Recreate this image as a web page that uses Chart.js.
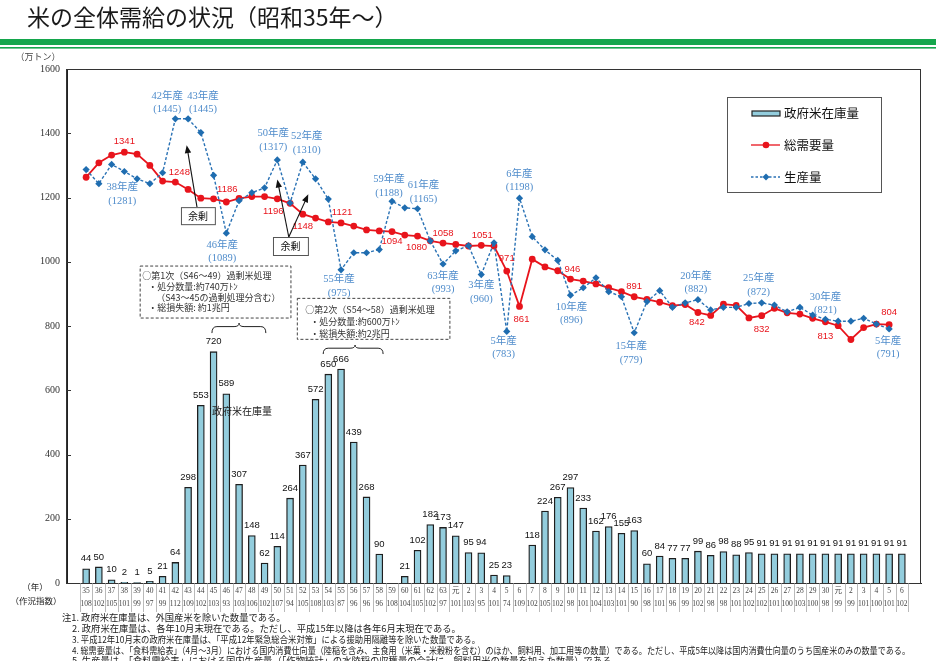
<!DOCTYPE html>
<html><head><meta charset="utf-8">
<script src="https://cdn.jsdelivr.net/npm/chart.js@4.4.0/dist/chart.umd.min.js"></script>
<style>html,body{margin:0;padding:0;background:#fff;}#wrap{width:936px;height:661px;}</style>
</head><body><div id="wrap"><canvas id="c" width="936" height="661"></canvas></div>
<script>
// ---- data ----
const years = ['35','36','37','38','39','40','41','42','43','44','45','46','47','48','49','50','51','52','53','54','55','56','57','58','59','60','61','62','63','元','2','3','4','5','6','7','8','9','10','11','12','13','14','15','16','17','18','19','20','21','22','23','24','25','26','27','28','29','30','元','2','3','4','5','6'];
const cropIndex = [108,102,105,101,99,97,99,112,109,102,103,93,103,106,102,107,94,105,108,103,87,96,96,96,108,104,105,102,97,101,103,95,101,74,109,102,105,102,98,101,104,103,101,90,98,101,96,99,102,98,98,101,102,102,101,100,103,100,98,99,99,101,100,101,102];
const stock = [44,50,10,2,1,5,21,64,298,553,720,589,307,148,62,114,264,367,572,650,666,439,268,90,null,21,102,182,173,147,95,94,25,23,null,118,224,267,297,233,162,176,155,163,60,84,77,77,99,86,98,88,95,91,91,91,91,91,91,91,91,91,91,91,91];
const demand = [1263,1308,1332,1341,1335,1300,1251,1248,1225,1198,1196,1186,1197,1203,1203,1196,1182,1148,1136,1124,1121,1111,1099,1096,1094,1083,1080,1065,1058,1054,1049,1051,1049,971,861,1008,984,972,946,940,931,919,907,891,883,874,863,867,842,833,868,864,825,832,855,841,837,824,813,801,758,795,806,804,null];
const production = [1287,1243,1303,1281,1258,1243,1277,1445,1445,1402,1269,1089,1190,1215,1230,1317,1183,1310,1258,1195,975,1028,1028,1038,1188,1168,1165,1065,993,1034,1050,960,1059,783,1198,1078,1037,1004,896,919,950,907,891,779,876,910,858,872,882,850,858,858,870,872,865,844,858,834,821,815,815,824,806,791,null];
const yTickValues = [0,200,400,600,800,1000,1200,1400,1600];
const seriesNames = ['政府米在庫量','総需要量','生産量'];

// labelled points: [index, dx, dy]
const demandLabelPts = [[3,0,-10.5],[7,4,-10],[11,1,-13],[15,-4,13],[17,0,12],[20,1,-10.5],[24,0,10],[26,-1,11],[28,0,-10],[31,1,-9.5],[33,0,-12.5],[34,2,13],[38,2,-10],[43,0,-10],[48,-1,10],[53,0,14],[58,0,15],[63,0,-12]];
const prodLabelPts = [[3,-2,16],[7,-8,-23],[8,15,-23],[11,-4,12],[15,-4,-26.5],[17,4,-25.5],[20,-2,9.5],[24,-3,-22],[26,6,-23],[28,0,12],[31,0,11],[33,-3,9.5],[34,0,-24],[38,1,12],[43,-3,14],[48,-2,-23.5],[53,-3,-24.5],[58,0,-22.5],[63,-1,12]];

const notes = [
 '注1. 政府米在庫量は、外国産米を除いた数量である。',
 '2. 政府米在庫量は、各年10月末現在である。ただし、平成15年以降は各年6月末現在である。',
 '3. 平成12年10月末の政府米在庫量は、「平成12年緊急総合米対策」による援助用隔離等を除いた数量である。',
 '4. 総需要量は、「食料需給表」（4月～3月）における国内消費仕向量（陸稲を含み、主食用（米菓・米穀粉を含む）のほか、飼料用、加工用等の数量）である。ただし、平成5年以降は国内消費仕向量のうち国産米のみの数量である。',
 '5. 生産量は、「食料需給表」における国内生産量（「作物統計」の水陸稲の収穫量の合計に、飼料用米の数量を加えた数量）である。'
];
const box1Lines = ['○第1次（S46～49）過剰米処理','・処分数量:約740万ﾄﾝ','（S43～45の過剰処理分含む）','・総損失額: 約1兆円'];
const box2Lines = ['○第2次（S54～58）過剰米処理','・処分数量:約600万ﾄﾝ','・総損失額:約2兆円'];

const toXY = arr => arr.map((v,i)=>v==null?null:{x:i,y:v}).filter(p=>p);

const RED='#e8141c', BLUE='#2a72b5', BLUE_T='#4f8ccb', BAR='#93cddd';
const SANS='"Noto Sans CJK JP","Noto Sans",sans-serif';
const SERIF='"Liberation Serif","Noto Sans CJK JP",serif';

function arrow(c,x1,y1,x2,y2){
  const ang=Math.atan2(y2-y1,x2-x1), L=8, W=3.2;
  c.beginPath(); c.moveTo(x1,y1); c.lineTo(x2-Math.cos(ang)*L*0.8,y2-Math.sin(ang)*L*0.8); c.stroke();
  c.beginPath(); c.moveTo(x2,y2);
  c.lineTo(x2-Math.cos(ang)*L+Math.sin(ang)*W, y2-Math.sin(ang)*L-Math.cos(ang)*W);
  c.lineTo(x2-Math.cos(ang)*L-Math.sin(ang)*W, y2-Math.sin(ang)*L+Math.cos(ang)*W);
  c.closePath(); c.fill();
}
function brace(c,x1,x2,cx,yt,yb){
  const ym=yt+(yb-yt)*0.35;
  c.beginPath();
  c.moveTo(x1,yb); c.quadraticCurveTo(x1,ym,x1+5,ym);
  c.lineTo(cx-5,ym); c.quadraticCurveTo(cx,ym,cx,yt);
  c.quadraticCurveTo(cx,ym,cx+5,ym); c.lineTo(x2-5,ym);
  c.quadraticCurveTo(x2,ym,x2,yb); c.stroke();
}

const decor = {
  id:'decor',
  beforeDraw(chart){
    const c=chart.ctx; c.save();
    c.fillStyle='#fff'; c.fillRect(0,0,chart.width,chart.height);
    c.fillStyle='#1a1a1a'; c.font='400 23px '+SANS; c.textBaseline='middle'; c.textAlign='left';
    c.fillText('米の全体需給の状況（昭和35年〜）',27,17.5);
    c.fillStyle='#14a64c'; c.fillRect(0,39,chart.width,6); c.fillRect(0,47,chart.width,1.6);
    c.restore();
  },
  afterDraw(chart){
    const c=chart.ctx, xs=chart.scales.x, ys=chart.scales.y, a=chart.chartArea;
    const X=v=>xs.getPixelForValue(v), Y=v=>ys.getPixelForValue(v);
    c.save();
    // frame
    c.strokeStyle='#333'; c.lineWidth=1;
    c.strokeRect(Math.round(a.left)-0.5,Math.round(a.top)+0.5,Math.round(a.right-a.left),Math.round(a.bottom-a.top));
    // inner y ticks
    yTickValues.forEach(v=>{const y=Math.round(Y(v))+0.5;c.beginPath();c.moveTo(a.left,y);c.lineTo(a.left+4,y);c.stroke();});
    // table separators
    c.strokeStyle='#9c9c9c'; c.lineWidth=0.7;
    for(let k=-0.5;k<=years.length-0.5;k+=1){const x=Math.round(X(k))+0.5;c.beginPath();c.moveTo(x,a.bottom);c.lineTo(x,a.bottom+29);c.stroke();}
    // axis captions
    c.fillStyle='#444'; c.font='9px '+SANS; c.textAlign='center'; c.textBaseline='middle';
    c.fillText('（万トン）',38,57);
    c.fillStyle='#222'; c.font='8.5px '+SANS;
    c.fillText('（年）',35,587); c.fillText('（作況指数）',36,601);
    // bar labels
    c.fillStyle='#111'; c.font='9.5px "Liberation Sans",sans-serif';
    stock.forEach((v,i)=>{ if(v!=null) c.fillText(String(v),X(i),Y(v)-10); });
    // demand labels
    c.fillStyle=RED; c.font='9.5px "Liberation Sans",sans-serif';
    demandLabelPts.forEach(([i,dx,dy])=>c.fillText(String(demand[i]),X(i)+dx,Y(demand[i])+dy));
    // production labels
    c.fillStyle=BLUE_T; c.font='10.5px '+SERIF;
    prodLabelPts.forEach(([i,dx,dy])=>{
      const x=X(i)+dx, y=Y(production[i])+dy;
      c.fillText(years[i]+'年産',x,y); c.fillText('('+production[i]+')',x,y+13.5);
    });
    // in-chart caption
    c.fillStyle='#222'; c.font='10px '+SANS; c.fillText(seriesNames[0],X(12.23),Y(535));
    // dashed boxes
    c.setLineDash([3,2]); c.strokeStyle='#444'; c.lineWidth=1;
    let bx=X(4.24), by=Y(986.6), bw=X(16.07)-bx, bh=Y(824.8)-by;
    c.fillStyle='#fff'; c.fillRect(bx,by,bw,bh); c.strokeRect(bx,by,bw,bh);
    c.fillStyle='#333'; c.font='9px '+SANS; c.textAlign='left';
    [[2,10],[8,21],[16,31.5],[8,42]].forEach(([ox,oy],k)=>c.fillText(box1Lines[k],bx+ox,by+oy));
    bx=X(16.57); by=Y(886); bw=X(28.54)-bx; bh=Y(758.5)-by;
    c.fillStyle='#fff'; c.fillRect(bx,by,bw,bh); c.strokeRect(bx,by,bw,bh);
    c.fillStyle='#333';
    [[8,11],[13,23],[13,35]].forEach(([ox,oy],k)=>c.fillText(box2Lines[k],bx+ox,by+oy));
    c.setLineDash([]);
    // braces
    c.strokeStyle='#222'; c.lineWidth=1;
    brace(c,X(9.87),X(14.1),X(12.0),Y(809),Y(778));
    brace(c,X(18.6),X(23.3),X(21.1),Y(740.7),Y(712.7));
    // surplus boxes + arrows
    c.fillStyle='#111'; c.strokeStyle='#111'; c.lineWidth=1.1;
    arrow(c,X(8.7),Y(1170),X(7.89),Y(1363));
    arrow(c,X(15.9),Y(1077),X(15.0),Y(1256));
    arrow(c,X(15.9),Y(1077),X(17.43),Y(1210));
    c.strokeStyle='#555'; c.lineWidth=1; c.textAlign='center'; c.font='10px '+SANS;
    [[7.44,10.1,1170,1117],[14.66,17.4,1077,1021]].forEach(([i1,i2,v1,v2])=>{
      const x=X(i1),y=Y(v1),w=X(i2)-x,h=Y(v2)-y;
      c.fillStyle='#fff'; c.fillRect(x,y,w,h); c.strokeRect(x+0.5,y+0.5,w,h);
      c.fillStyle='#111'; c.fillText('余剰',x+w/2,y+h/2+0.5);
    });
    // legend
    c.strokeStyle='#555'; c.lineWidth=1; c.strokeRect(727.5,97.5,154,95);
    c.fillStyle=BAR; c.fillRect(752,111,28,5); c.strokeStyle='#222'; c.lineWidth=1.2; c.strokeRect(752,111,28,5);
    c.strokeStyle=RED; c.lineWidth=1.3; c.beginPath(); c.moveTo(751,145); c.lineTo(780,145); c.stroke();
    c.fillStyle=RED; c.beginPath(); c.arc(766,145,3.3,0,Math.PI*2); c.fill();
    c.strokeStyle=BLUE; c.setLineDash([2.5,2]); c.beginPath(); c.moveTo(751,177); c.lineTo(780,177); c.stroke(); c.setLineDash([]);
    c.fillStyle='#1f6db0'; c.beginPath(); c.moveTo(766,173.5); c.lineTo(769.5,177); c.lineTo(766,180.5); c.lineTo(762.5,177); c.closePath(); c.fill();
    c.fillStyle='#111'; c.font='12.5px '+SANS; c.textAlign='left';
    c.fillText(seriesNames[0],784,113.5); c.fillText(seriesNames[1],784,145.5); c.fillText(seriesNames[2],784,177);
    // footnotes
    c.fillStyle='#222'; c.font='9.3px '+SANS;
    const nx=[62,72,72,72,72], ny=[617,628,639,650,660.5], nw=[240,398,408,838,648];
    notes.forEach((t,k)=>c.fillText(t,nx[k],ny[k],nw[k]));
    c.restore();
  }
};

new Chart(document.getElementById('c'),{
  type:'bar',
  data:{datasets:[
    {type:'line',label:seriesNames[2],data:toXY(production),borderColor:BLUE,borderWidth:1.4,borderDash:[3,2],
     pointStyle:'rectRot',pointRadius:3.6,pointBackgroundColor:'#1f6db0',pointBorderColor:'#1f6db0',pointBorderWidth:0,tension:0,order:1},
    {type:'line',label:seriesNames[1],data:toXY(demand),borderColor:RED,borderWidth:1.8,
     pointStyle:'circle',pointRadius:3.4,pointBackgroundColor:RED,pointBorderColor:RED,pointBorderWidth:0,tension:0,order:2},
    {type:'bar',label:seriesNames[0],data:toXY(stock),backgroundColor:BAR,borderColor:'#1e1e1e',borderWidth:1.3,barThickness:7,order:3}
  ]},
  options:{
    responsive:false,animation:false,
    layout:{padding:{left:0,top:69,right:15,bottom:0}},
    plugins:{legend:{display:false},tooltip:{enabled:false}},
    scales:{
      x:{type:'linear',min:-1.5,max:65.5,offset:false,
         grid:{display:false,drawTicks:false},border:{display:true,color:'#222',width:1},
         afterBuildTicks:s=>{s.ticks=years.map((_,i)=>({value:i}));},
         afterFit:s=>{s.height=78;},
         ticks:{autoSkip:false,maxRotation:0,minRotation:0,padding:1,color:'#444',
           font:{family:'"Liberation Serif","Noto Sans CJK JP",serif',size:7.5,lineHeight:'13.5px'},
           callback:v=>(Number.isInteger(v)&&v>=0&&v<years.length)?[years[v],String(cropIndex[v])]:''}},
      y:{min:0,max:1600,grid:{display:false,drawTicks:false},border:{display:true,color:'#222',width:1},
         afterFit:s=>{s.width=67;},
         ticks:{stepSize:200,padding:7,color:'#333',font:{family:'"Liberation Serif",serif',size:10},callback:v=>String(v)}}
    }
  },
  plugins:[decor]
});
</script></body></html>
